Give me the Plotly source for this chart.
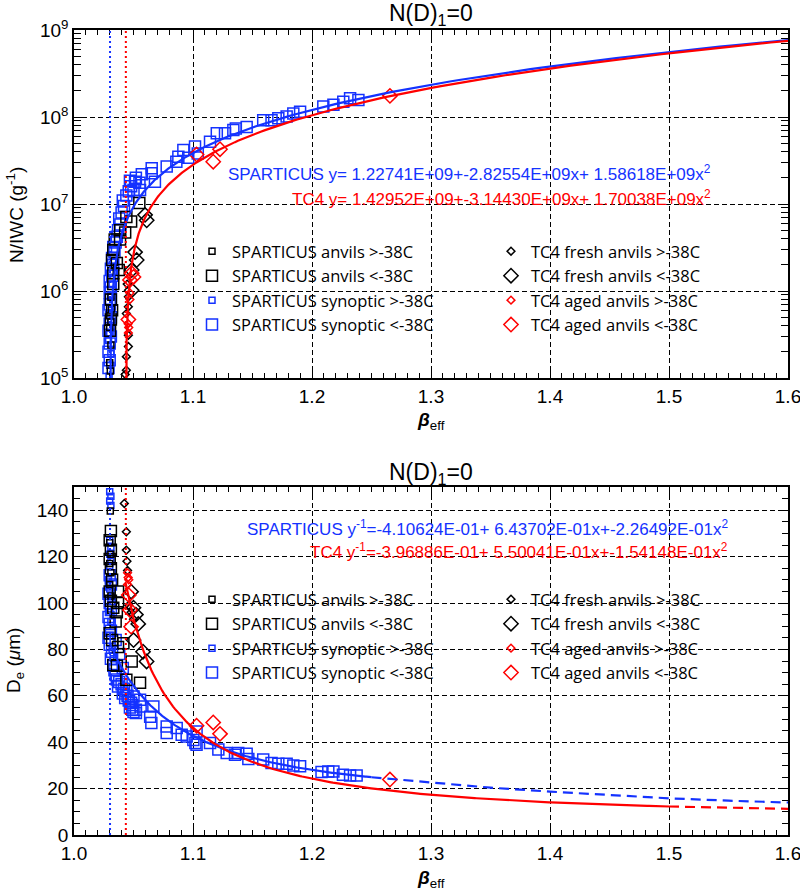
import numpy as np
import plotly.graph_objects as go
from plotly.subplots import make_subplots

BLUE = "rgb(20,50,255)"
RED = "rgb(255,0,0)"
BLACK = "black"
FONT = "Liberation Sans, Arial, sans-serif"
TFONT = "Open Sans, Liberation Sans, sans-serif"

# ---------------- fit coefficients ----------------
SP_TOP = [1.22741e9, -2.82554e9, 1.58618e9]     # N/IWC = a + b x + c x^2
TC4_TOP = [1.42952e9, -3.14430e9, 1.70038e9]
SP_BOT = [-4.10624e-1, 6.43702e-1, -2.26492e-1]  # 1/De = a + b x + c x^2
TC4_BOT = [-3.96886e-1, 5.50041e-1, -1.54148e-1]
SP_SOLID_END = 1.25
TC4_SOLID_END = 1.5
# dashed SPARTICUS extension in the lower panel
SP_DASH_X = [1.25, 1.30, 1.35, 1.40, 1.45, 1.50, 1.55, 1.60]
SP_DASH_Y = [24.9, 22.6, 20.4, 18.7, 17.1, 15.8, 14.8, 14.0]

# ---------------- upper panel data: beta_eff vs N/IWC ----------------
T_SYN_S_X = [1.0295, 1.030, 1.031, 1.029, 1.030, 1.031, 1.030, 1.031, 1.032, 1.031, 1.033, 1.034]
T_SYN_S_Y = [1.05e5, 1.4e5, 1.9e5, 2.7e5, 3.3e5, 4.5e5, 6.5e5, 9e5, 1.2e6, 1.6e6, 2.2e6, 3.0e6]
T_SYN_L_X = [1.029, 1.030, 1.029, 1.030, 1.031, 1.029, 1.030, 1.031, 1.029, 1.030, 1.031, 1.030,
             1.031, 1.030, 1.032, 1.031, 1.033, 1.032, 1.034, 1.033, 1.035, 1.036, 1.037, 1.039,
             1.038, 1.040, 1.042, 1.041, 1.044, 1.046, 1.048, 1.050, 1.047, 1.052, 1.057, 1.055,
             1.0513, 1.0555, 1.0653, 1.0653, 1.068, 1.0779, 1.0877, 1.086, 1.0919, 1.096, 1.1017,
             1.104, 1.1143, 1.12, 1.1269, 1.1339, 1.136, 1.1451, 1.159, 1.166, 1.1717, 1.1787,
             1.1843, 1.19, 1.2095, 1.218, 1.2263, 1.232, 1.239]
T_SYN_L_Y = [1.3e5, 1.6e5, 2.0e5, 2.5e5, 3.0e5, 3.5e5, 4.2e5, 5.0e5, 6.0e5, 7.0e5, 8.0e5, 9.5e5,
             1.1e6, 1.3e6, 1.5e6, 1.8e6, 2.0e6, 2.4e6, 2.8e6, 3.2e6, 3.6e6, 4.2e6, 5.0e6, 5.8e6,
             6.8e6, 8.0e6, 9.5e6, 1.1e7, 1.25e7, 1.4e7, 1.6e7, 1.45e7, 1.85e7, 2.0e7, 2.2e7, 1.75e7,
             1.8e7, 1.45e7, 2.57e7, 2.25e7, 1.8e7, 2.69e7, 3.5e7, 3.06e7, 4.17e7, 3.4e7, 4.57e7,
             3.8e7, 5.2e7, 6.5e7, 6.5e7, 7.08e7, 7.4e7, 7.7e7, 9.2e7, 9.2e7, 9.7e7, 1.01e8,
             1.1e8, 1.15e8, 1.32e8, 1.38e8, 1.5e8, 1.64e8, 1.57e8]
T_ANV_S_X = [1.0305, 1.030, 1.031, 1.030, 1.031, 1.030, 1.0315, 1.031]
T_ANV_S_Y = [1.2e5, 1.5e5, 2.4e5, 3.8e5, 4.4e5, 5.2e5, 6.2e5, 8.5e5]
T_ANV_L_X = [1.0303, 1.031, 1.032, 1.031, 1.033, 1.033, 1.036, 1.0376, 1.032, 1.033, 1.0342,
             1.0387, 1.043, 1.0387, 1.048, 1.044, 1.0549]
T_ANV_L_Y = [3.5e5, 4.7e5, 6e5, 8e5, 1.2e6, 1.6e6, 2.1e6, 1.74e6, 2.27e6, 2.96e6, 3.9e6,
             3.9e6, 4.7e6, 5e6, 6.3e6, 7.1e6, 1.03e7]
T_FRESH_S_X = [1.043, 1.044, 1.044, 1.0457, 1.0457, 1.044, 1.0457, 1.0457, 1.0447]
T_FRESH_S_Y = [1.1e5, 1.23e5, 1.76e5, 2.3e5, 3.1e5, 5.5e5, 6.6e5, 8.6e5, 1.2e6]
T_FRESH_L_X = [1.0485, 1.0513, 1.0527, 1.0485, 1.0597, 1.0611]
T_FRESH_L_Y = [1.02e6, 2.8e6, 2.27e6, 1.74e6, 7.5e6, 6.5e6]
T_AGED_S_X = [1.0457, 1.046, 1.0455, 1.047, 1.047]
T_AGED_S_Y = [3.3e5, 3.8e5, 4.2e5, 8e5, 9.5e5]
T_AGED_L_X = [1.0457, 1.047, 1.0485, 1.05, 1.103, 1.117, 1.1227, 1.2655]
T_AGED_L_Y = [4.7e5, 1.34e6, 1.6e6, 1.45e6, 3.7e7, 3.06e7, 4.26e7, 1.75e8]

# ---------------- lower panel data: beta_eff vs De ----------------
B_SYN_S_X = [1.030, 1.031, 1.030, 1.031, 1.030, 1.031, 1.030, 1.031, 1.030, 1.029, 1.030,
             1.031, 1.030, 1.031, 1.030, 1.032, 1.033]
B_SYN_S_Y = [148, 146, 144, 142, 127, 124, 121, 118, 116, 110, 106, 102, 96, 92, 86, 80, 76]
B_SYN_L_X = [1.030, 1.031, 1.029, 1.030, 1.031, 1.029, 1.030, 1.031, 1.029, 1.030, 1.032,
             1.031, 1.033, 1.034, 1.035, 1.036, 1.038, 1.037, 1.040, 1.042, 1.041, 1.044,
             1.045, 1.046, 1.048, 1.043, 1.047, 1.050, 1.049, 1.052, 1.035, 1.038, 1.041,
             1.05, 1.0555, 1.049, 1.052, 1.056, 1.0667, 1.064, 1.065,
             1.0779, 1.0779, 1.0863, 1.0905, 1.0947, 1.1003, 1.103, 1.102, 1.103, 1.1143,
             1.1213, 1.1283, 1.1353, 1.138, 1.1451, 1.1465, 1.159, 1.166, 1.1717, 1.1787,
             1.1843, 1.19, 1.208, 1.2137, 1.218, 1.226, 1.232, 1.2375]
B_SYN_L_Y = [112, 108, 104, 100, 97, 94, 91, 88, 85, 82, 79,
             76, 73, 71, 69, 67, 66, 64, 65, 63, 61, 62,
             60, 58, 57, 59, 55, 53, 56, 54, 84, 78, 72,
             59.7, 58.3, 54, 52.6, 55.4, 55.4, 51, 48.3,
             46.8, 44, 46.1, 43.2, 42.5, 41, 44.6, 39.7, 38.9, 39.7,
             36.8, 35.3, 34.6, 35.3, 35, 32.8, 32.5, 31, 30.7, 30.7,
             30, 29.6, 27.2, 27.4, 27.4, 26, 25.6, 25.6]
B_ANV_S_X = [1.0305, 1.030, 1.031, 1.030, 1.031, 1.030, 1.031]
B_ANV_S_Y = [139.7, 126, 121, 117, 113, 108, 103]
B_ANV_L_X = [1.031, 1.030, 1.031, 1.030, 1.031, 1.032, 1.030, 1.031, 1.033, 1.037, 1.037,
             1.036, 1.035, 1.030, 1.032, 1.037, 1.0415, 1.033, 1.036, 1.0485, 1.044, 1.0555]
B_ANV_L_Y = [131, 127, 123, 119, 115, 110, 105, 101, 98, 105, 100,
             96, 92, 87, 84, 81, 82.7, 73.3, 73, 74.8, 66.9, 65.6]
B_FRESH_S_X = [1.0423, 1.044, 1.044, 1.0445, 1.045, 1.046, 1.048, 1.050]
B_FRESH_S_Y = [142.9, 130.7, 122.8, 118, 114, 99, 96, 93]
B_FRESH_L_X = [1.048, 1.050, 1.052, 1.054, 1.050, 1.058, 1.061]
B_FRESH_L_Y = [104.9, 98, 95, 91, 84, 79, 74.8]
B_AGED_S_X = [1.045, 1.0455, 1.046, 1.045]
B_AGED_S_Y = [113, 111, 110, 108]
B_AGED_L_X = [1.046, 1.047, 1.048, 1.103, 1.117, 1.1227, 1.2655]
B_AGED_L_Y = [103.4, 97, 89.8, 47.1, 48.5, 43.6, 23.9]

LEGEND_NAMES = ["SPARTICUS anvils >-38C", "SPARTICUS anvils <-38C",
                "SPARTICUS synoptic >-38C", "SPARTICUS synoptic <-38C",
                "TC4 fresh anvils >-38C", "TC4 fresh anvils <-38C",
                "TC4 aged anvils >-38C", "TC4 aged anvils <-38C"]

X_TICKS = [1.0, 1.1, 1.2, 1.3, 1.4, 1.5, 1.6]
X_TICKTEXT = ["1.0", "1.1", "1.2", "1.3", "1.4", "1.5", "1.6"]
Y1_TICKS = [1e5, 1e6, 1e7, 1e8, 1e9]
Y1_TICKTEXT = ["10<sup>5</sup>", "10<sup>6</sup>", "10<sup>7</sup>", "10<sup>8</sup>", "10<sup>9</sup>"]
Y2_TICKS = [0, 20, 40, 60, 80, 100, 120, 140]

fig = make_subplots(rows=2, cols=1)

SMALL_SQ, LARGE_SQ, SMALL_DI, LARGE_DI = 6, 11, 6, 11


def pts(x, y, row, symbol, size, color, name, legend, rank):
    fig.add_trace(go.Scatter(
        x=x, y=y, mode="markers", name=name, legend=legend, legendrank=rank,
        marker=dict(symbol=symbol, size=size, color=color, line=dict(color=color, width=1.5)),
        hoverinfo="skip"), row=row, col=1)


panels = [
    (1, "legend", "legend2", T_SYN_S_X, T_SYN_S_Y, T_SYN_L_X, T_SYN_L_Y, T_ANV_S_X, T_ANV_S_Y,
     T_ANV_L_X, T_ANV_L_Y, T_FRESH_S_X, T_FRESH_S_Y, T_FRESH_L_X, T_FRESH_L_Y,
     T_AGED_S_X, T_AGED_S_Y, T_AGED_L_X, T_AGED_L_Y),
    (2, "legend3", "legend4", B_SYN_S_X, B_SYN_S_Y, B_SYN_L_X, B_SYN_L_Y, B_ANV_S_X, B_ANV_S_Y,
     B_ANV_L_X, B_ANV_L_Y, B_FRESH_S_X, B_FRESH_S_Y, B_FRESH_L_X, B_FRESH_L_Y,
     B_AGED_S_X, B_AGED_S_Y, B_AGED_L_X, B_AGED_L_Y),
]
for (row, lg1, lg2, sxs, sys_, sxl, syl, axs, ays, axl, ayl,
     fxs, fys, fxl, fyl, gxs, gys, gxl, gyl) in panels:
    pts(sxs, sys_, row, "square-open", SMALL_SQ, BLUE, LEGEND_NAMES[2], lg1, 3)
    pts(sxl, syl, row, "square-open", LARGE_SQ, BLUE, LEGEND_NAMES[3], lg1, 4)
    pts(axs, ays, row, "square-open", SMALL_SQ, BLACK, LEGEND_NAMES[0], lg1, 1)
    pts(axl, ayl, row, "square-open", LARGE_SQ, BLACK, LEGEND_NAMES[1], lg1, 2)
    pts(fxs, fys, row, "diamond-open", SMALL_DI, BLACK, LEGEND_NAMES[4], lg2, 1)
    pts(fxl, fyl, row, "diamond-open", LARGE_DI, BLACK, LEGEND_NAMES[5], lg2, 2)
    pts(gxs, gys, row, "diamond-open", SMALL_DI, RED, LEGEND_NAMES[6], lg2, 3)
    pts(gxl, gyl, row, "diamond-open", LARGE_DI, RED, LEGEND_NAMES[7], lg2, 4)


def upper_root(c):
    a, b, q = c
    return (-b + np.sqrt(b * b - 4 * q * a)) / (2 * q)


def quad(c, x):
    return c[0] + c[1] * x + c[2] * x ** 2


def line(x, y, row, color, dash="solid"):
    fig.add_trace(go.Scatter(x=x, y=y, mode="lines", showlegend=False, hoverinfo="skip",
                             line=dict(color=color, width=2.2, dash=dash)), row=row, col=1)


DASH = "10px,6px"
r_sp = upper_root(SP_TOP)
r_tc = upper_root(TC4_TOP)

# upper panel fits
xs = r_sp + np.geomspace(1e-6, 1.6 - r_sp, 500)
line(xs, quad(SP_TOP, xs), 1, BLUE)
xt = r_tc + np.geomspace(1e-6, 1.6 - r_tc, 500)
line(xt, quad(TC4_TOP, xt), 1, RED)

# lower panel fits
xs2 = np.linspace(r_sp, SP_SOLID_END, 300)
line(xs2, 1.0 / quad(SP_BOT, xs2), 2, BLUE)
line(SP_DASH_X, SP_DASH_Y, 2, BLUE, DASH)
xt2 = np.linspace(r_tc, TC4_SOLID_END, 300)
line(xt2, 1.0 / quad(TC4_BOT, xt2), 2, RED)
xt3 = np.linspace(TC4_SOLID_END, 1.6, 50)
line(xt3, 1.0 / quad(TC4_BOT, xt3), 2, RED, DASH)

for row in (1, 2):
    fig.add_vline(x=r_sp, line=dict(color=BLUE, width=2, dash="2px,3px"), row=row, col=1)
    fig.add_vline(x=r_tc, line=dict(color=RED, width=2, dash="2px,3px"), row=row, col=1)

# ---------------- geometry ----------------
W, H = 800, 892
ML, MR, MT, MB = 74, 12, 30, 57
PH = H - MT - MB
PW = W - ML - MR


def py(p):
    return (H - MB - p) / PH


def px(p):
    return (p - ML) / PW


axis_common = dict(showline=True, linecolor="black", linewidth=1.5, mirror="allticks",
                   ticks="inside", ticklen=10, tickwidth=1.2, tickcolor="black",
                   showgrid=True, gridcolor="black", gridwidth=1.2, griddash="5px,3px",
                   zeroline=False, automargin=False, ticklabeloverflow="allow",
                   tickfont=dict(family=FONT, size=19, color="black"))

fig.update_xaxes(range=[1.0, 1.6], tickmode="array", tickvals=X_TICKS, ticktext=X_TICKTEXT,
                 minor=dict(ticks="inside", ticklen=5, dtick=0.01, tick0=1.0, showgrid=False,
                            tickcolor="black", tickwidth=1.2),
                 **axis_common)
fig.update_yaxes(type="log", range=[5, 9], tickmode="array", tickvals=Y1_TICKS,
                 ticktext=Y1_TICKTEXT,
                 minor=dict(ticks="inside", ticklen=7, dtick="D1", showgrid=False,
                            tickcolor="black", tickwidth=1.2),
                 row=1, col=1, **axis_common)
fig.update_yaxes(range=[0, 150], tickmode="array", tickvals=Y2_TICKS,
                 minor=dict(ticks="inside", ticklen=6, dtick=5, tick0=0, showgrid=False,
                            tickcolor="black", tickwidth=1.2),
                 row=2, col=1, **axis_common)

fig.update_layout(
    xaxis=dict(domain=[0, 1]), xaxis2=dict(domain=[0, 1]),
    yaxis=dict(domain=[py(378), 1.0]), yaxis2=dict(domain=[0.0, py(487)]),
)

# ---------------- legends ----------------
leg_common = dict(bgcolor="rgba(0,0,0,0)", borderwidth=0, font=dict(family=TFONT, size=16.5, color="black"),
                  itemsizing="trace", tracegroupgap=0, xanchor="left", yanchor="top",
                  orientation="v")
fig.update_layout(
    legend=dict(x=px(192), y=py(234), **leg_common),
    legend2=dict(x=px(491), y=py(234), **leg_common),
    legend3=dict(x=px(192), y=py(582), **leg_common),
    legend4=dict(x=px(491), y=py(582), **leg_common),
)

# ---------------- annotations ----------------
ann = []


def text(x, y, s, size=17, color="black", xanchor="center", yanchor="middle", angle=0, family=FONT):
    ann.append(dict(xref="paper", yref="paper", x=x, y=y, text=s, showarrow=False,
                    xanchor=xanchor, yanchor=yanchor, textangle=angle,
                    font=dict(family=family, size=size, color=color)))


text(0.5, py(14), "N(D)<sub>1</sub>=0", size=23)
text(0.5, py(473), "N(D)<sub>1</sub>=0", size=23)
text(px(15), py(215), "N/IWC (g<sup>-1</sup>)", size=19, angle=-90)
text(px(15), py(661), "D<sub>e</sub> (<i>μ</i>m)", size=19, angle=-90)
text(0.5, py(421), "<b><i>β</i></b><sub>eff</sub>", size=19)
text(0.5, py(879), "<b><i>β</i></b><sub>eff</sub>", size=19)

text(px(713), py(173), "SPARTICUS y= 1.22741E+09+-2.82554E+09x+ 1.58618E+09x<sup>2</sup>",
     color=BLUE, xanchor="right")
text(px(713), py(198), "TC4 y= 1.42952E+09+-3.14430E+09x+ 1.70038E+09x<sup>2</sup>",
     color=RED, xanchor="right")
text(px(730), py(528), "SPARTICUS y<sup>-1</sup>=-4.10624E-01+ 6.43702E-01x+-2.26492E-01x<sup>2</sup>",
     color=BLUE, xanchor="right")
text(px(730), py(551), "TC4 y<sup>-1</sup>=-3.96886E-01+ 5.50041E-01x+-1.54148E-01x<sup>2</sup>",
     color=RED, xanchor="right")

fig.update_layout(
    annotations=ann,
    width=W, height=H,
    margin=dict(l=ML, r=MR, t=MT, b=MB),
    paper_bgcolor="white", plot_bgcolor="white",
    font=dict(family=FONT, color="black"),
)

# the browser's default 8px page margin would shift the 800x892 figure; remove it
fig.write_html("out.html", config={"displayModeBar": False},
               post_script="document.body.style.margin='0px';")
